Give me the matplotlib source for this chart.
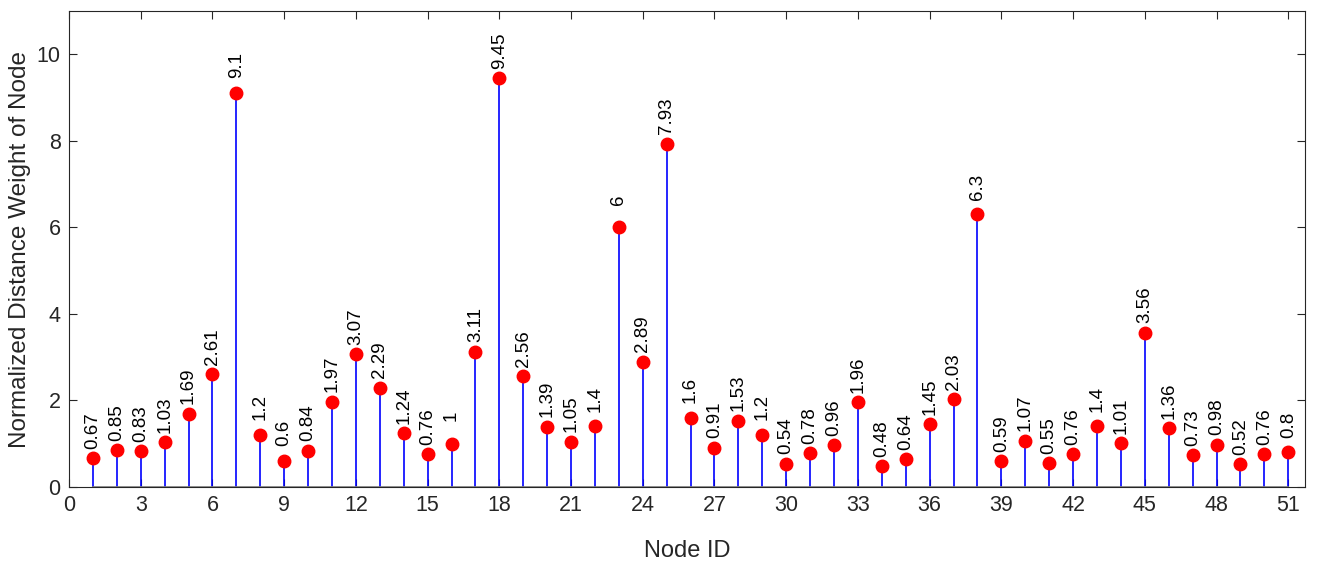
import matplotlib.pyplot as plt

plt.rcParams['font.family'] = ['Liberation Sans', 'DejaVu Sans']

node_ids = list(range(1, 52))
weights = [0.67, 0.85, 0.83, 1.03, 1.69, 2.61, 9.1, 1.2, 0.6, 0.84,
           1.97, 3.07, 2.29, 1.24, 0.76, 1, 3.11, 9.45, 2.56, 1.39,
           1.05, 1.4, 6, 2.89, 7.93, 1.6, 0.91, 1.53, 1.2, 0.54,
           0.78, 0.96, 1.96, 0.48, 0.64, 1.45, 2.03, 6.3, 0.59, 1.07,
           0.55, 0.76, 1.4, 1.01, 3.56, 1.36, 0.73, 0.98, 0.52, 0.76,
           0.8]
labels = ['0.67', '0.85', '0.83', '1.03', '1.69', '2.61', '9.1', '1.2', '0.6', '0.84',
          '1.97', '3.07', '2.29', '1.24', '0.76', '1', '3.11', '9.45', '2.56', '1.39',
          '1.05', '1.4', '6', '2.89', '7.93', '1.6', '0.91', '1.53', '1.2', '0.54',
          '0.78', '0.96', '1.96', '0.48', '0.64', '1.45', '2.03', '6.3', '0.59', '1.07',
          '0.55', '0.76', '1.4', '1.01', '3.56', '1.36', '0.73', '0.98', '0.52', '0.76',
          '0.8']

fig = plt.figure(figsize=(13.17, 5.65), dpi=100)
ax = fig.add_axes([69 / 1317, 1 - 487 / 565, (1305 - 69) / 1317, (487 - 11) / 565])

markerline, stemlines, baseline = ax.stem(node_ids, weights)
plt.setp(stemlines, color='blue', linewidth=1.2)
plt.setp(markerline, color='red', marker='o', markersize=9)
plt.setp(baseline, color='#808080', linewidth=1.2)

# labels are centred a fixed distance above each marker
for x, y, s in zip(node_ids, weights, labels):
    ax.annotate(s, (x, y), xytext=(0, 20), textcoords='offset points',
                rotation=90, ha='center', va='center', fontsize=13.5, color='#000000')

ax.set_xlim(0, 51.7)
ax.set_ylim(0, 11)
ax.set_xticks(range(0, 52, 3))
ax.set_yticks(range(0, 11, 2))
ax.tick_params(direction='in', top=True, right=True, labelsize=15.5, colors='#262626',
               length=6, pad=6)
for sp in ax.spines.values():
    sp.set_color('#262626')
ax.set_xlabel('Node ID', fontsize=17, color='#262626', labelpad=17)
ax.set_ylabel('Normalized Distance Weight of Node', fontsize=17.5, color='#262626', labelpad=4)

plt.savefig('out.png')
